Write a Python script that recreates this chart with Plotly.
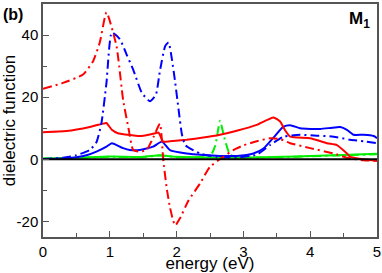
import plotly.graph_objects as go

# ---- data ----
red_dd_x = [0, 0.3, 0.6, 0.75, 0.85, 0.95, 1.1, 1.2, 1.28, 1.35, 1.45, 1.55, 1.65, 1.75, 1.8, 1.85, 1.9, 1.95, 1.98,
            2.05, 2.18, 2.35, 2.5, 2.7, 2.85, 3.0, 3.2, 3.4, 3.55, 3.7, 4.0, 4.35, 4.55, 4.8, 5.0]
red_dd_y = [22.7, 24.6, 27.3, 31.6, 37.6, 47.3, 36.5, 19, 10, 3, 2.5, 3, 7, 11.5, 0, -9, -15.4, -19.8, -21.3,
            -19, -13.2, -7.8, -2.4, 0.8, 3, 4.5, 5.8, 6.8, 6.5, 5.2, 3.6, 1.9, 0.5, -0.3, -0.5]

blue_dd_x = [0, 0.3, 0.5, 0.7, 0.8, 0.875, 0.95, 1.03, 1.15, 1.25, 1.35, 1.48, 1.6, 1.69, 1.75, 1.83, 1.88, 1.93,
             1.98, 2.03, 2.08, 2.13, 2.35, 2.6, 2.9, 3.2, 3.4, 3.6, 3.85, 4.1, 4.35, 4.6, 4.8, 5.0]
blue_dd_y = [0.1, 0.5, 1.3, 3, 5.5, 11.7, 24.6, 40.8, 38.7, 33.8, 28.9, 21.4, 18.7, 20.8, 28.4, 36.5, 37.6, 32.2,
             24.6, 16, 8, 4.6, 1.9, 0.8, 0.6, 1.5, 4.6, 7.3, 7.9, 7.6, 7.3, 6.3, 5.8, 5.2]

red_x = [0, 0.35, 0.7, 0.9, 0.95, 1.03, 1.12, 1.27, 1.45, 1.6, 1.68, 1.73, 1.8, 1.9, 2.15, 2.4, 2.65, 2.9, 3.2,
         3.45, 3.55, 3.62, 3.7, 4.0, 4.25, 4.4, 4.55, 4.6, 4.8, 5.0]
red_y = [8.75, 9.1, 10.4, 11.5, 11.7, 9.5, 8.4, 7.9, 7.5, 8.0, 8.4, 8.6, 5.7, 5.8, 6.3, 7.0, 7.9, 9.2, 11.1,
         13.5, 12.2, 9.5, 7.3, 6.8, 5.2, 4.6, 1.9, 0.8, 0.0, -0.5]

blue_x = [0, 0.3, 0.5, 0.65, 0.8, 0.95, 1.03, 1.2, 1.3, 1.45, 1.65, 1.78, 1.9, 2.15, 2.4, 2.65, 2.9, 3.15, 3.3,
          3.45, 3.6, 3.7, 3.85, 4.0, 4.15, 4.3, 4.45, 4.55, 4.65, 4.8, 4.95, 5.0]
blue_y = [0.1, 0.3, 0.7, 1.3, 2.5, 4.1, 5.2, 3.6, 3.0, 3.0, 4.1, 5.7, 3.0, 1.9, 1.4, 1.1, 1.1, 1.9, 3.5,
          7.0, 10.5, 11.0, 10.0, 9.8, 9.8, 10.1, 10.4, 9.5, 7.9, 7.9, 7.5, 6.8]

green_dd_x = [0, 0.5, 1.0, 1.5, 1.75, 2.0, 2.3, 2.5, 2.58, 2.65, 2.72, 2.8, 2.9, 3.2, 3.6, 4.0, 4.5, 5.0]
green_dd_y = [0.2, 0.4, 0.8, 0.7, 1.2, 0.7, 0.7, 0.9, 4.5, 12.4, 6.5, 1.5, 0.7, 0.6, 0.7, 1.0, 1.3, 1.6]

green_x = [0, 0.5, 1.0, 1.5, 1.75, 2.0, 2.5, 3.0, 3.6, 4.0, 4.5, 5.0]
green_y = [0.3, 0.5, 0.9, 0.8, 1.3, 0.8, 0.6, 0.5, 0.8, 1.1, 1.4, 1.8]

zero_x = [0, 5]
zero_y = [0, 0]

x_ticks = [0, 1, 2, 3, 4, 5]
y_ticks = [-20, 0, 20, 40]

RED, BLUE, GREEN = "#ff0000", "#0000ff", "#00ee00"
DD = "9px,4px,2px,4px"
FONT = "Liberation Sans, Arial, sans-serif"

fig = go.Figure()
series = [
    (green_x, green_y, GREEN, "solid"),
    (green_dd_x, green_dd_y, GREEN, DD),
    (blue_x, blue_y, BLUE, "solid"),
    (red_x, red_y, RED, "solid"),
    (blue_dd_x, blue_dd_y, BLUE, DD),
    (red_dd_x, red_dd_y, RED, DD),
    (zero_x, zero_y, "#000000", "solid"),
]
for xs, ys, c, d in series:
    fig.add_trace(go.Scatter(x=xs, y=ys, mode="lines",
                             line=dict(color=c, width=2, dash=d, shape="spline", smoothing=0.5),
                             showlegend=False, hoverinfo="skip"))

axis_common = dict(showline=True, linecolor="#555555", linewidth=1.5, mirror=True, showgrid=False,
                   zeroline=False, ticks="inside", ticklen=6, tickcolor="#555555", tickwidth=1,
                   tickfont=dict(family=FONT, size=15, color="#000000"))

fig.update_xaxes(range=[0, 5], tickvals=x_ticks, ticktext=[str(v) for v in x_ticks],
                 minor=dict(dtick=0.5, ticklen=4, ticks="inside", tickcolor="#555555"),
                 title=dict(text="energy (eV)", font=dict(family=FONT, size=17, color="#000000"), standoff=6),
                 **axis_common)
fig.update_yaxes(range=[-25, 50], tickvals=y_ticks, ticktext=[str(v) for v in y_ticks],
                 minor=dict(dtick=10, ticklen=4, ticks="inside", tickcolor="#555555"),
                 title=dict(text="dielectric function", font=dict(family=FONT, size=17, color="#000000"), standoff=3),
                 **axis_common)

fig.add_annotation(text="<b>(b)</b>", xref="paper", yref="paper", x=-0.125, y=1.0, xanchor="left", yanchor="top",
                   showarrow=False, font=dict(family=FONT, size=16, color="#000000"))
fig.add_annotation(text="<b>M</b><sub><b>1</b></sub>", xref="paper", yref="paper", x=0.985, y=0.985,
                   xanchor="right", yanchor="top", showarrow=False, font=dict(family=FONT, size=17, color="#000000"))

fig.update_layout(width=382, height=273, margin=dict(l=43, r=5, t=4, b=36, autoexpand=False),
                  plot_bgcolor="#ffffff", paper_bgcolor="#ffffff")

fig.write_html("out.html", config={"displayModeBar": False},
               post_script="document.body.style.margin='0px';")
